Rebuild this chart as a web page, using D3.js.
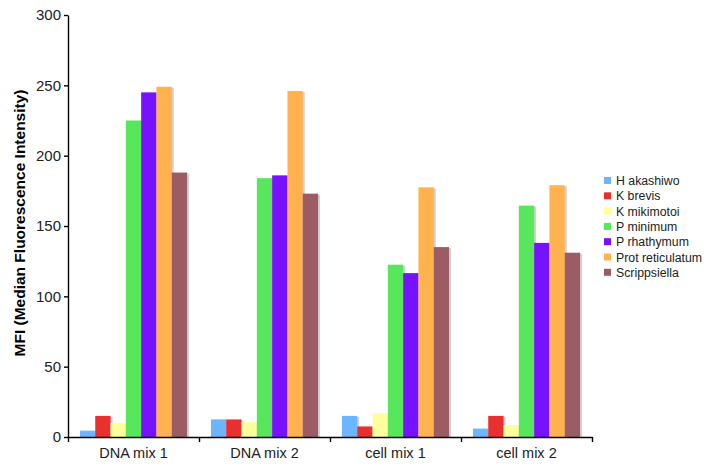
<!DOCTYPE html>
<html>
<head>
<meta charset="utf-8">
<script src="https://cdn.jsdelivr.net/npm/d3@7"></script>
<style>
  body { margin: 0; background: #fff; }
  svg { font-family: "Liberation Sans", Arial, sans-serif; }
</style>
</head>
<body>
<div id="root"></div>
<script>
// Gruppi sull'asse x e specie (serie)
const groups = ["DNA mix 1", "DNA mix 2", "cell mix 1", "cell mix 2"];
const species = ["H akashiwo", "K brevis", "K mikimotoi", "P minimum", "P rhathymum", "Prot reticulatum", "Scrippsiella"];

// Valori MFI per specie, uno per gruppo
const hAkashiwo = [4.5, 12.5, 15, 6];
const kBrevis = [15, 12.5, 7.5, 15];
const kMikimotoi = [10, 10.5, 17, 8.5];
const pMinimum = [225, 184, 122.5, 164.5];
const pRhathymum = [245, 186, 116.5, 138];
const protReticulatum = [249, 246, 177.5, 179];
const scrippsiella = [188, 173, 135, 131];

const yTicks = [0, 50, 100, 150, 200, 250, 300];
const colors = ["#6cb6ff", "#e8302f", "#ffff9c", "#58e65c", "#7612ff", "#ffb24e", "#9b5c64"];

const series = [hAkashiwo, kBrevis, kMikimotoi, pMinimum, pRhathymum, protReticulatum, scrippsiella];

const width = 711, height = 470;
const margin = { top: 15, right: 119, bottom: 33, left: 68 };
const plotW = width - margin.left - margin.right;
const plotH = height - margin.top - margin.bottom;

const svg = d3.select("#root").append("svg")
    .attr("width", width)
    .attr("height", height);

const g = svg.append("g")
    .attr("transform", `translate(${margin.left},${margin.top})`);

// Scale
const x0 = d3.scaleBand().domain(groups).range([0, plotW]).padding(0);
const x1 = d3.scaleBand().domain(d3.range(species.length)).range([0, x0.bandwidth()])
    .paddingInner(0).paddingOuter(0.78);
const y = d3.scaleLinear().domain([0, 300]).range([plotH, 0]);

// Barre (con una leggera ombra a destra)
groups.forEach((grp, gi) => {
    const bg = g.append("g").attr("transform", `translate(${x0(grp)},0)`);
    series.forEach((vals, si) => {
        bg.append("rect")
            .attr("x", x1(si) + 2)
            .attr("y", y(vals[gi]) + 1)
            .attr("width", x1.bandwidth())
            .attr("height", y(0) - y(vals[gi]) - 1)
            .attr("fill", "#d4d0d0");
    });
    series.forEach((vals, si) => {
        bg.append("rect")
            .attr("x", x1(si))
            .attr("y", y(vals[gi]))
            .attr("width", x1.bandwidth())
            .attr("height", y(0) - y(vals[gi]))
            .attr("fill", colors[si]);
    });
});

// Asse y
const yAxis = g.append("g")
    .call(d3.axisLeft(y).tickValues(yTicks).tickSize(4).tickSizeOuter(0).tickPadding(3));
yAxis.selectAll("text").attr("font-size", 15).attr("fill", "#222").style("font-family", "inherit");
yAxis.selectAll("line, path").attr("stroke", "#000").attr("stroke-width", 1.4);

// Asse x: tacche ai bordi dei gruppi
const xb = d3.scaleLinear().domain([0, groups.length]).range([0, plotW]);
const xAxisTicks = g.append("g")
    .attr("transform", `translate(0,${plotH})`)
    .call(d3.axisBottom(xb).ticks(groups.length).tickFormat("").tickSize(5).tickSizeOuter(0));
xAxisTicks.selectAll("line, path").attr("stroke", "#000").attr("stroke-width", 1.4);

// Etichette dei gruppi
const xAxisLabels = g.append("g")
    .attr("transform", `translate(0,${plotH})`)
    .call(d3.axisBottom(x0).tickSize(0).tickPadding(11));
xAxisLabels.select(".domain").remove();
xAxisLabels.selectAll("text").attr("font-size", 14.5).attr("fill", "#222").style("font-family", "inherit");

// Titolo asse y
svg.append("text")
    .attr("transform", `translate(25,223) rotate(-90)`)
    .attr("text-anchor", "middle")
    .attr("font-size", 15.5)
    .attr("font-weight", "bold")
    .text("MFI (Median Fluorescence Intensity)");

// Legenda
const legend = svg.append("g").attr("transform", "translate(604,181)");
species.forEach((s, i) => {
    const row = legend.append("g").attr("transform", `translate(0,${i * 15.3})`);
    row.append("rect")
        .attr("x", 0).attr("y", -4)
        .attr("width", 7).attr("height", 7)
        .attr("fill", colors[i]);
    row.append("text")
        .attr("x", 12).attr("y", 4)
        .attr("font-size", 12.3)
        .attr("fill", "#222")
        .text(s);
});
</script>
</body>
</html>
